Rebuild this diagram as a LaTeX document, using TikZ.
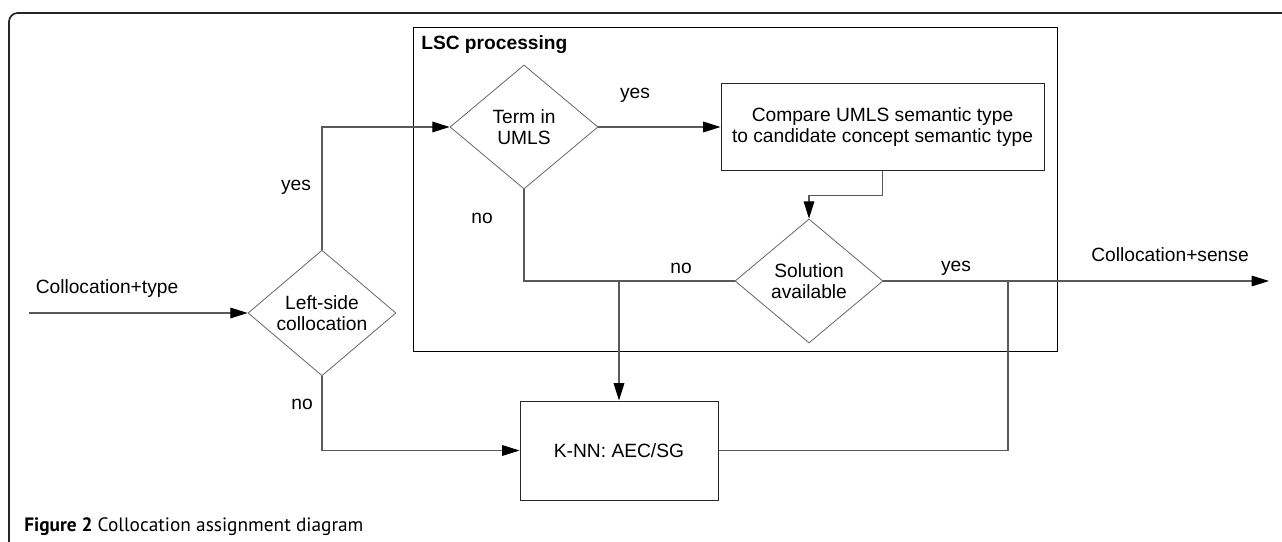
\documentclass[tikz,border=0pt]{standalone}
\usepackage{fontspec}
\setmainfont{Liberation Sans}
\newfontfamily\capfont{PT Sans}
\usetikzlibrary{shapes.geometric,arrows.meta}
\begin{document}
\begin{tikzpicture}[x=0.75pt,y=-0.75pt,
  txt/.style={font=\fontsize{14.4}{15.6}\selectfont, inner sep=0pt, align=center},
  conn/.style={draw=black!65, line width=0.8pt},
  arr/.style={conn, -{Triangle[length=13pt,width=8pt,color=black]}},
  dia/.style={diamond, draw=black!60, line width=0.6pt, minimum width=111pt, minimum height=93pt, inner sep=0pt, txt},
  pbox/.style={rectangle, draw=black!85, line width=0.75pt, inner sep=0pt, txt},
  lbl/.style={txt}
]
\useasboundingbox (0,0) rectangle (1282,542);
% outer frame
\draw[draw=black!85, line width=1.3pt, rounded corners=6.5pt] (1290,13) -- (9,13) -- (9,550);
% LSC processing box
\node[pbox, draw=black, minimum width=483pt, minimum height=242.25pt] (lsc) at (735,189.5) {};
\node[anchor=west, font=\bfseries\fontsize{14.4}{16}\selectfont, inner sep=0pt] (lsclbl) at (421,45) {LSC processing};
% decision nodes
\node[dia] (left) at (322,313) {Left-side\\collocation};
\node[dia] (term) at (524,127) {Term in\\UMLS};
\node[dia] (sol) at (809,281) {Solution\\available};
% process boxes
\node[pbox, minimum width=242.25pt, minimum height=64.5pt] (cmp) at (882.5,127) {Compare UMLS semantic type\\to candidate concept semantic type};
\node[pbox, minimum width=148.5pt, minimum height=74.25pt] (knn) at (619,450.5) {K-NN: AEC/SG};
% free ends / junctions
\coordinate (in) at (29,313);
\coordinate (out) at (1269,281);
\coordinate (j1) at (619,281);
\coordinate (j2) at (1008,281);
% connectors
\draw[arr] (in) -- (left.west);
\draw[arr] (left.north) |- (term.west);
\draw[arr] (term.east) -- (cmp.west);
\draw[arr] (cmp.south) -- ++(0,25) -| (sol.north);
\draw[conn] (term.south) |- (sol.west);
\draw[arr] (j1) -- (knn.north);
\draw[arr] (sol.east) -- (out);
\draw[conn] (knn.east) -| (j2);
\draw[arr] (left.south) |- (knn.west);
% labels
\node[lbl] (l1) at (107,289) {Collocation+type};
\node[lbl] (l2) at (1170,255) {Collocation+sense};
\node[lbl] (l3) at (296,187) {yes};
\node[lbl] (l4) at (635,95) {yes};
\node[lbl] (l5) at (482,218) {no};
\node[lbl] (l6) at (681,268) {no};
\node[lbl] (l7) at (956,268) {yes};
\node[lbl] (l8) at (302,404) {no};
% caption
\node[anchor=west, inner sep=0pt, font=\capfont\fontsize{14.5}{17}\selectfont] (cap) at (24,527) {\textbf{Figure 2} Collocation assignment diagram};
\end{tikzpicture}
\end{document}
